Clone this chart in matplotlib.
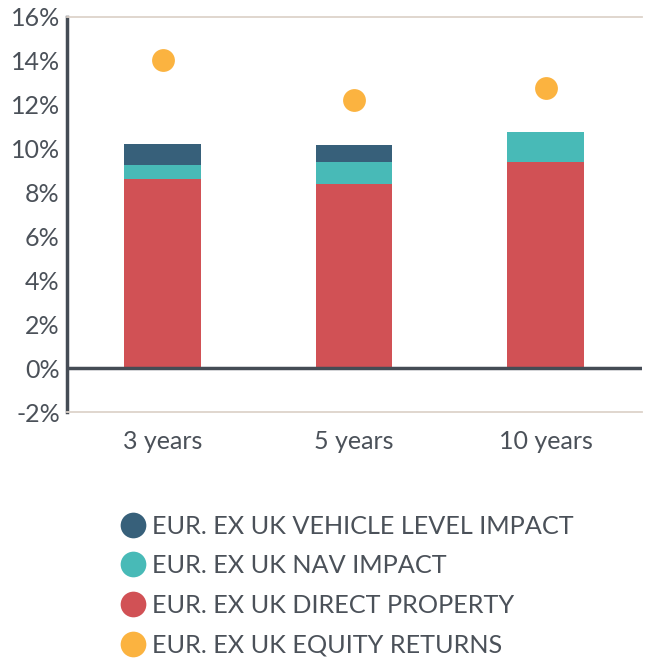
import matplotlib
matplotlib.use("Agg")
import matplotlib.pyplot as plt
from matplotlib.lines import Line2D
from matplotlib.ticker import FuncFormatter

categories = ["3 years", "5 years", "10 years"]
direct_property = [8.6, 8.4, 9.4]
nav_impact = [0.65, 0.97, 1.36]
vehicle_impact = [0.95, 0.8, 0.0]
equity_returns = [14.05, 12.2, 12.75]

labels = ["EUR. EX UK VEHICLE LEVEL IMPACT", "EUR. EX UK NAV IMPACT",
          "EUR. EX UK DIRECT PROPERTY", "EUR. EX UK EQUITY RETURNS"]
c_dark, c_teal, c_red, c_yellow = "#37607a", "#48bab7", "#d15155", "#fbb340"
txt = "#4b5159"

plt.rcParams['font.family'] = ['Lato', 'DejaVu Sans']

fig = plt.figure(figsize=(6.48, 6.64), dpi=100)
ax = fig.add_axes([0.103, 0.3795, 0.887, 0.595])

x = list(range(len(categories)))
w = 0.4
ax.bar(x, direct_property, w, color=c_red, zorder=2)
ax.bar(x, nav_impact, w, bottom=direct_property, color=c_teal, zorder=2)
bot2 = [a + b for a, b in zip(direct_property, nav_impact)]
ax.bar(x, vehicle_impact, w, bottom=bot2, color=c_dark, zorder=2)
ax.scatter(x, equity_returns, s=270, color=c_yellow, zorder=3, linewidths=0)

ax.set_xlim(-0.5, 2.5)
ax.set_ylim(-2, 16)
ax.set_yticks(range(-2, 17, 2))
ax.yaxis.set_major_formatter(FuncFormatter(lambda v, p: f"{int(v)}%"))
ax.set_xticks(x)
ax.set_xticklabels(categories)
ax.tick_params(axis='both', length=0, labelsize=18, colors=txt)
ax.tick_params(axis='x', pad=13)
ax.tick_params(axis='y', pad=5)

for s in ["top", "bottom"]:
    ax.spines[s].set_color("#ddd3ca")
    ax.spines[s].set_linewidth(1.3)
ax.spines["right"].set_visible(False)
ax.spines["left"].set_color("#454c55")
ax.spines["left"].set_linewidth(2.5)
ax.axhline(0, color="#454c55", linewidth=2.5, zorder=4)

handles = [Line2D([], [], marker='o', linestyle='none', markersize=18.5,
                  markerfacecolor=c, markeredgewidth=0)
           for c in [c_dark, c_teal, c_red, c_yellow]]
leg = fig.legend(handles, labels, loc="upper left", bbox_to_anchor=(0.165, 0.244),
                 frameon=False, fontsize=18.2, labelcolor=txt, handletextpad=0.25,
                 labelspacing=0.66, borderpad=0, handlelength=1.05)

fig.savefig("out.png", dpi=100)
